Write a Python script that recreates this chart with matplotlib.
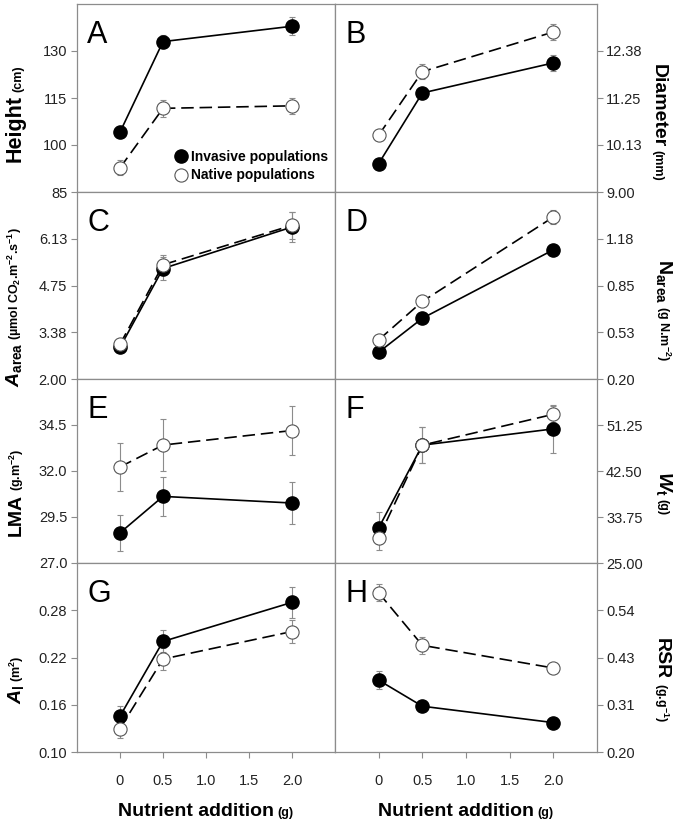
import matplotlib
matplotlib.use('Agg')
import matplotlib.pyplot as plt
from matplotlib.lines import Line2D
from matplotlib.transforms import IdentityTransform

plt.rcParams['font.family'] = 'Liberation Sans'
plt.rcParams['mathtext.fontset'] = 'custom'
plt.rcParams['mathtext.rm'] = 'Liberation Sans:bold'
plt.rcParams['mathtext.it'] = 'Liberation Sans:italic:bold'
plt.rcParams['mathtext.bf'] = 'Liberation Sans:bold'

# ==================== DATA ====================
nutrient = [0, 0.5, 2.0]
x_ticks = [0, 0.5, 1.0, 1.5, 2.0]
x_ticklabels = ['0', '0.5', '1.0', '1.5', '2.0']

height_inv = [104.1, 133.0, 137.9]
height_inv_se = [2.0, 2.0, 2.9]
height_nat = [92.7, 111.7, 112.5]
height_nat_se = [2.4, 2.7, 2.6]

diam_inv = [9.68, 11.37, 12.09]
diam_inv_se = [0.07, 0.10, 0.20]
diam_nat = [10.36, 11.88, 12.83]
diam_nat_se = [0.08, 0.18, 0.20]

aarea_inv = [2.93, 5.25, 6.47]
aarea_inv_se = [0.15, 0.35, 0.45]
aarea_nat = [3.02, 5.36, 6.52]
aarea_nat_se = [0.15, 0.30, 0.40]

narea_inv = [0.386, 0.622, 1.098]
narea_inv_se = [0.02, 0.02, 0.025]
narea_nat = [0.472, 0.739, 1.326]
narea_nat_se = [0.02, 0.03, 0.046]

lma_inv = [28.64, 30.62, 30.26]
lma_inv_se = [0.97, 1.06, 1.13]
lma_nat = [32.22, 33.41, 34.2]
lma_nat_se = [1.32, 1.39, 1.35]

wt_inv = [31.67, 47.42, 50.51]
wt_inv_se = [3.1, 3.4, 4.5]
wt_nat = [29.82, 47.42, 53.29]
wt_nat_se = [2.4, 3.4, 1.5]

al_inv = [0.1455, 0.2404, 0.290]
al_inv_se = [0.013, 0.014, 0.02]
al_nat = [0.1298, 0.218, 0.253]
al_nat_se = [0.012, 0.014, 0.015]

rsr_inv = [0.371, 0.309, 0.270]
rsr_inv_se = [0.022, 0.012, 0.006]
rsr_nat = [0.579, 0.454, 0.400]
rsr_nat_se = [0.02, 0.02, 0.01]

# y ranges, ticks, tick labels per panel
ylims = {
    'A': (85, 145), 'B': (9.0, 13.5), 'C': (2.0, 7.5), 'D': (0.2, 1.5),
    'E': (27.0, 37.0), 'F': (25.0, 60.0), 'G': (0.10, 0.34), 'H': (0.20, 0.65),
}
yticks = {
    'A': [85, 100, 115, 130],
    'B': [9.0, 10.125, 11.25, 12.375],
    'C': [2.0, 3.375, 4.75, 6.125],
    'D': [0.2, 0.525, 0.85, 1.175],
    'E': [27.0, 29.5, 32.0, 34.5],
    'F': [25.0, 33.75, 42.5, 51.25],
    'G': [0.10, 0.16, 0.22, 0.28],
    'H': [0.2, 0.3125, 0.425, 0.5375],
}
yticklabels = {
    'A': ['85', '100', '115', '130'],
    'B': ['9.00', '10.13', '11.25', '12.38'],
    'C': ['2.00', '3.38', '4.75', '6.13'],
    'D': ['0.20', '0.53', '0.85', '1.18'],
    'E': ['27.0', '29.5', '32.0', '34.5'],
    'F': ['25.00', '33.75', '42.50', '51.25'],
    'G': ['0.10', '0.16', '0.22', '0.28'],
    'H': ['0.20', '0.31', '0.43', '0.54'],
}

series = {
    'A': (height_inv, height_inv_se, height_nat, height_nat_se),
    'B': (diam_inv, diam_inv_se, diam_nat, diam_nat_se),
    'C': (aarea_inv, aarea_inv_se, aarea_nat, aarea_nat_se),
    'D': (narea_inv, narea_inv_se, narea_nat, narea_nat_se),
    'E': (lma_inv, lma_inv_se, lma_nat, lma_nat_se),
    'F': (wt_inv, wt_inv_se, wt_nat, wt_nat_se),
    'G': (al_inv, al_inv_se, al_nat, al_nat_se),
    'H': (rsr_inv, rsr_inv_se, rsr_nat, rsr_nat_se),
}

# ==================== LAYOUT ====================
W, H = 676, 823
fig = plt.figure(figsize=(W / 100, H / 100), dpi=100)
fig.patch.set_facecolor('white')

cols = [(77, 335), (335, 597)]
rows = [(4, 192), (192, 379), (379, 563), (563, 752)]
letters = [['A', 'B'], ['C', 'D'], ['E', 'F'], ['G', 'H']]

GREY = '#8c8c8c'

axes = {}
for r, (top, bot) in enumerate(rows):
    for c, (x0, x1) in enumerate(cols):
        key = letters[r][c]
        ax = fig.add_axes([x0 / W, 1 - bot / H, (x1 - x0) / W, (bot - top) / H])
        axes[key] = ax

        inv, inv_se, nat, nat_se = series[key]
        ax.errorbar(nutrient, inv, yerr=inv_se, fmt='none', ecolor=GREY,
                    elinewidth=0.8, capsize=2.5, capthick=0.8, zorder=1)
        ax.errorbar(nutrient, nat, yerr=nat_se, fmt='none', ecolor=GREY,
                    elinewidth=0.8, capsize=2.5, capthick=0.8, zorder=1)
        ax.plot(nutrient, inv, color='black', linewidth=1.2, marker='o',
                markersize=9.5, markerfacecolor='black', markeredgecolor='black',
                zorder=3)
        ax.plot(nutrient, nat, color='black', linewidth=1.2,
                linestyle=(0, (7.5, 3.5)), marker='o', markersize=9.5,
                markerfacecolor='white', markeredgecolor='#555555',
                markeredgewidth=0.8, zorder=4)

        ax.set_xlim(-0.5, 2.5)
        ax.set_ylim(*ylims[key])
        ax.set_yticks(yticks[key])
        ax.set_yticklabels(yticklabels[key])
        ax.set_xticks(x_ticks)
        if r == 3:
            ax.set_xticklabels(x_ticklabels)
        else:
            ax.set_xticklabels([])

        for sp in ax.spines.values():
            sp.set_color(GREY)
            sp.set_linewidth(0.9)

        ax.tick_params(axis='both', direction='out', length=4, width=0.8,
                       color=GREY, labelsize=10.5, labelcolor='#222222')
        ax.tick_params(axis='x', pad=12)
        if c == 1:
            ax.yaxis.tick_right()
            ax.tick_params(axis='y', pad=2.5)
        else:
            ax.tick_params(axis='y', pad=3)

        ax.text(0.04, 0.915, key, transform=ax.transAxes, fontsize=22,
                ha='left', va='top', color='black')

# legend in panel A
handles = [
    Line2D([], [], linestyle='none', marker='o', markersize=9.5,
           markerfacecolor='black', markeredgecolor='black'),
    Line2D([], [], linestyle='none', marker='o', markersize=9.5,
           markerfacecolor='white', markeredgecolor='#555555', markeredgewidth=0.8),
]
axes['A'].legend(handles, ['Invasive populations', 'Native populations'],
                 loc='lower left', bbox_to_anchor=(0.355, 0.014), frameon=False,
                 borderpad=0, handlelength=0.8, handletextpad=0.3,
                 labelspacing=0.3, prop={'weight': 'bold', 'size': 10})

# ==================== AXIS LABELS ====================
renderer = fig.canvas.get_renderer()


def compose(parts, x, y, rot, gap=3):
    """Chain text pieces of different sizes along one baseline (pixel coords, top-origin y)."""
    y = H - y
    texts = []
    lengths = []
    for s, fs in parts:
        t = fig.text(0, 0, s, fontsize=fs, fontweight='bold', color='black',
                     transform=IdentityTransform(), rotation=rot,
                     rotation_mode='anchor', ha='left', va='baseline')
        bb = t.get_window_extent(renderer)
        texts.append(t)
        lengths.append(bb.width if rot == 0 else bb.height)
    total = sum(lengths) + gap * (len(parts) - 1)
    if rot == 0:
        pos = x - total / 2
        for t, L in zip(texts, lengths):
            t.set_position((pos, y))
            pos += L + gap
    elif rot == 90:
        pos = y - total / 2
        for t, L in zip(texts, lengths):
            t.set_position((x, pos))
            pos += L + gap
    else:
        pos = y + total / 2
        for t, L in zip(texts, lengths):
            t.set_position((x, pos))
            pos -= L + gap


# left column
compose([('Height', 15.5), ('(cm)', 9)], 21, 114, 90)
compose([(r'$\mathit{A}_{\mathrm{area}}$', 14),
         (r'(µmol CO$_{\mathrm{2}}$.m$^{\mathrm{-2}}$.s$^{\mathrm{-1}}$)', 9)], 19, 307, 90)
compose([('LMA', 14), (r'(g.m$^{\mathrm{-2}}$)', 9)], 21, 492, 90)
compose([(r'$\mathit{A}_{\mathrm{l}}$', 14), (r'(m$^{\mathrm{2}}$)', 9)], 21, 680, 90)

# right column
compose([('Diameter', 14), ('(mm)', 9)], 654, 122, -90)
compose([(r'N$_{\mathrm{area}}$', 14), (r'(g N.m$^{\mathrm{-2}}$)', 9)], 659, 310, -90)
compose([(r'$\mathit{W}_{\mathrm{t}}$', 14), ('(g)', 9)], 659, 493, -90)
compose([('RSR', 14), (r'(g.g$^{\mathrm{-1}}$)', 9)], 657, 680, -90)

# x labels
compose([('Nutrient addition', 14), ('(g)', 9)], 206, 816, 0)
compose([('Nutrient addition', 14), ('(g)', 9)], 466, 816, 0)

fig.savefig('out.png', dpi=100, facecolor='white')
